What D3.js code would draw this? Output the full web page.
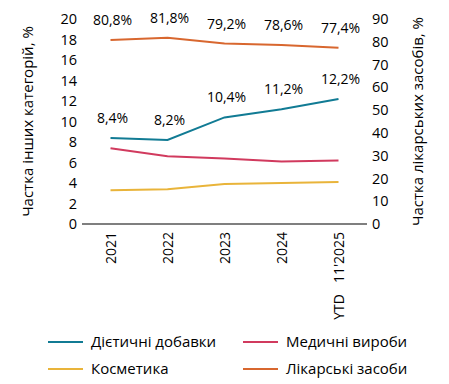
<!DOCTYPE html>
<html>
<head>
<meta charset="utf-8">
<script src="https://cdn.jsdelivr.net/npm/d3@7"></script>
<style>
  body { margin: 0; background: #fff; }
  svg text { font-family: "Open Sans", "Noto Sans", sans-serif; fill: #000; }
</style>
</head>
<body>
<div id="chart"></div>
<script>
const years = ["2021", "2022", "2023", "2024", "YTD\u00a0\u00a0\u00a011'2025"];
const dietary = [8.4, 8.2, 10.4, 11.2, 12.2];
const medical = [7.4, 6.6, 6.4, 6.1, 6.2];
const cosmetics = [3.3, 3.4, 3.9, 4.0, 4.1];
const drugs = [80.8, 81.8, 79.2, 78.6, 77.4];
const leftTicks = [0, 2, 4, 6, 8, 10, 12, 14, 16, 18, 20];
const rightTicks = [0, 10, 20, 30, 40, 50, 60, 70, 80, 90];

const width = 449, height = 384;
const margin = {left: 82, right: 82, top: 19, bottom: 160};

const colors = {
  dietary: "#117b94",
  medical: "#d13a5e",
  cosmetics: "#e9b43a",
  drugs: "#d8672f"
};

const svg = d3.select("#chart")
  .append("svg")
    .attr("width", width)
    .attr("height", height);

const x = d3.scalePoint()
  .domain(years)
  .range([margin.left, width - margin.right])
  .padding(0.5);

const yL = d3.scaleLinear()
  .domain([0, 20])
  .range([height - margin.bottom, margin.top]);

const yR = d3.scaleLinear()
  .domain([0, 90])
  .range([height - margin.bottom, margin.top]);

// left axis
const leftAxis = svg.append("g")
  .attr("transform", `translate(${margin.left}, 0)`)
  .call(d3.axisLeft(yL).tickValues(leftTicks).tickSize(0).tickPadding(5));
leftAxis.select(".domain").remove();
leftAxis.selectAll("text").style("font-size", "14.5px");

// right axis
const rightAxis = svg.append("g")
  .attr("transform", `translate(${width - margin.right}, 0)`)
  .call(d3.axisRight(yR).tickValues(rightTicks).tickSize(0).tickPadding(5));
rightAxis.select(".domain").remove();
rightAxis.selectAll("text").style("font-size", "14.5px");

// baseline
svg.append("line")
  .attr("x1", margin.left)
  .attr("x2", width - margin.right)
  .attr("y1", yL(0))
  .attr("y2", yL(0))
  .attr("stroke", "#7f7f7f")
  .attr("stroke-width", 2);

// x labels (rotated)
svg.append("g")
  .selectAll("text")
  .data(years)
  .join("text")
    .attr("transform", d => `translate(${x(d) + 5}, ${yL(0) + 8}) rotate(-90)`)
    .attr("text-anchor", "end")
    .style("font-size", "14px")
    .text(d => d);

const lineL = d3.line()
  .x((d, i) => x(years[i]))
  .y(d => yL(d));

const lineR = d3.line()
  .x((d, i) => x(years[i]))
  .y(d => yR(d));

const series = [
  {values: cosmetics, color: colors.cosmetics, f: lineL},
  {values: medical, color: colors.medical, f: lineL},
  {values: dietary, color: colors.dietary, f: lineL},
  {values: drugs, color: colors.drugs, f: lineR}
];

svg.append("g")
  .selectAll("path")
  .data(series)
  .join("path")
    .attr("fill", "none")
    .attr("stroke", d => d.color)
    .attr("stroke-width", 2)
    .attr("d", d => d.f(d.values));

const fmt = v => v.toFixed(1).replace(".", ",") + "%";

// value labels
svg.append("g")
  .selectAll("text")
  .data(dietary)
  .join("text")
    .attr("x", (d, i) => x(years[i]) + 2)
    .attr("y", d => yL(d) - 15)
    .attr("text-anchor", "middle")
    .style("font-size", "14px")
    .text(fmt);

svg.append("g")
  .selectAll("text")
  .data(drugs)
  .join("text")
    .attr("x", (d, i) => x(years[i]) + 2)
    .attr("y", d => yR(d) - 15)
    .attr("text-anchor", "middle")
    .style("font-size", "14px")
    .text(fmt);

// axis titles
svg.append("text")
  .attr("transform", `translate(33, ${(yL(0) + yL(20)) / 2}) rotate(-90)`)
  .attr("text-anchor", "middle")
  .style("font-size", "15px")
  .text("Частка інших категорій, %");

svg.append("text")
  .attr("transform", `translate(423, ${(yR(0) + yR(90)) / 2}) rotate(-90)`)
  .attr("text-anchor", "middle")
  .style("font-size", "15px")
  .text("Частка лікарських засобів, %");

// legend
const legendItems = [
  {label: "Дієтичні добавки", color: colors.dietary, col: 0, row: 0},
  {label: "Медичні вироби", color: colors.medical, col: 1, row: 0},
  {label: "Косметика", color: colors.cosmetics, col: 0, row: 1},
  {label: "Лікарські засоби", color: colors.drugs, col: 1, row: 1}
];

const legend = svg.append("g")
  .selectAll("g")
  .data(legendItems)
  .join("g")
    .attr("transform", d => `translate(${48 + d.col * 195}, ${342 + d.row * 27})`);

legend.append("line")
  .attr("x1", 0)
  .attr("x2", 35)
  .attr("stroke", d => d.color)
  .attr("stroke-width", 2);

legend.append("text")
  .attr("x", 43)
  .attr("dy", "0.35em")
  .style("font-size", "15px")
  .text(d => d.label);
</script>
</body>
</html>
